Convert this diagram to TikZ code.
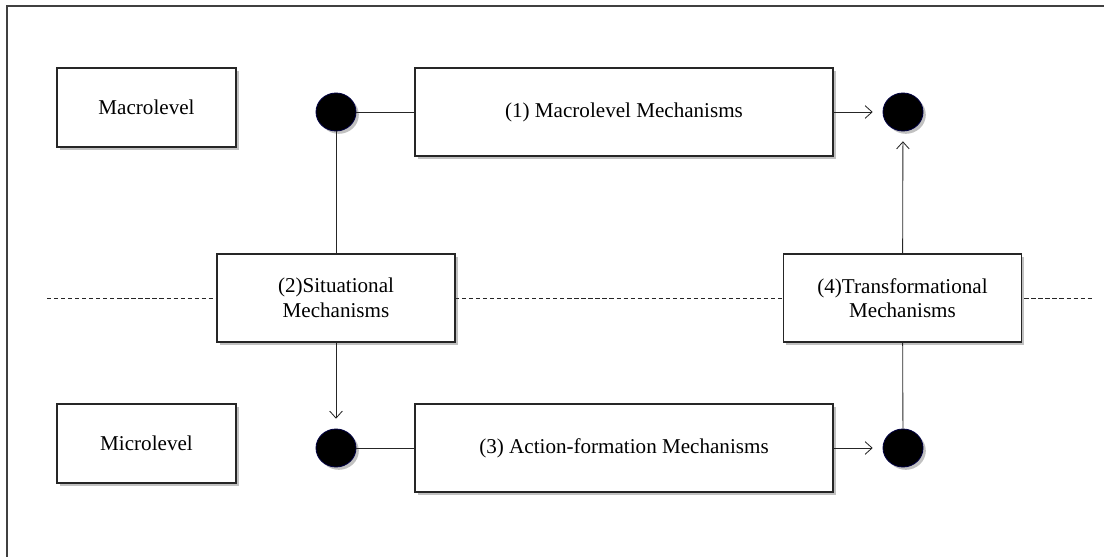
\documentclass[tikz,border=0pt]{standalone}
\usepackage{fontspec}
\setmainfont{Liberation Serif}
\usetikzlibrary{shadows,shapes.geometric,arrows.meta}
\begin{document}
\begin{tikzpicture}
[
	x=0.025cm,y=-0.025cm,
	shadowed/.style={drop shadow={shadow xshift=2pt,shadow yshift=-2pt,opacity=0.35,fill=black!70}},
	levelbox/.style={rectangle,draw=black!85,line width=0.9pt,fill=white,shadowed,align=center,
		font=\fontsize{15}{17.5}\selectfont,minimum width=4.475cm,minimum height=1.975cm},
	widebox/.style={levelbox,minimum width=10.45cm,minimum height=2.2cm},
	narrowbox/.style={levelbox,minimum width=5.95cm,minimum height=2.2cm},
	dot/.style={ellipse,draw=blue!25!black,fill=black,line width=0.6pt,shadowed,minimum width=1cm,minimum height=0.95cm,inner sep=0pt},
	link/.style={line width=0.6pt,black!85},
	toward/.style={link,-{Straight Barb[length=5pt,width=9pt]},shorten >=7pt}
]

	\useasboundingbox (0,0) rectangle (1104,557);
	\draw[line width=1.3pt,black!75] (7,557) -- (7,6) -- (1104,6);

	\draw[link,dash pattern=on 3pt off 2pt] (47,298) -- (1092,298);

	\node[levelbox] at (146.5,107.5) (macro) {Macrolevel};
	\node[levelbox] at (146.5,443.5) (micro) {Microlevel};

	\node[widebox] at (624,112) (macromech) {(1) Macrolevel Mechanisms};
	\node[widebox] at (624,448) (actmech) {(3) Action-formation Mechanisms};
	\node[narrowbox] at (336,298) (sitmech) {(2)Situational\\Mechanisms};
	\node[narrowbox] at (902.5,298) (transmech) {(4)Transformational\\Mechanisms};

	\node[dot] at (336,112) (macroin) {};
	\node[dot] at (903,112) (macroout) {};
	\node[dot] at (336,448) (microin) {};
	\node[dot] at (903,448) (microout) {};

	\draw[link] (macroin) -- (macromech);
	\draw[toward] (macromech) -- (macroout);
	\draw[link] (macroin) -- (sitmech);
	\draw[toward] (sitmech) -- (microin);
	\draw[link] (microin) -- (actmech);
	\draw[toward] (actmech) -- (microout);
	\draw[link] (microout) -- (transmech);
	\draw[toward] (transmech) -- (macroout);

\end{tikzpicture}
\end{document}
